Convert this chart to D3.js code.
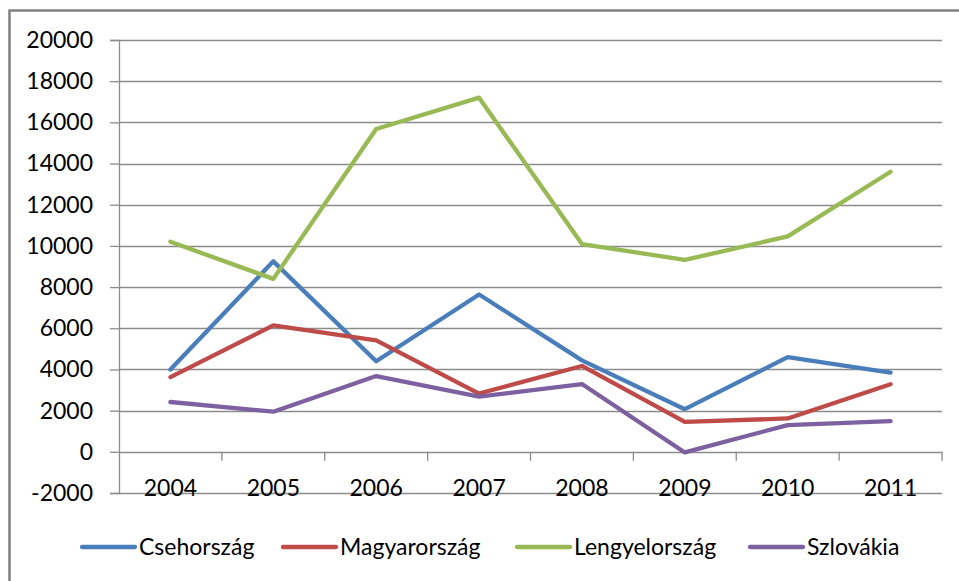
<!DOCTYPE html>
<html>
<head>
<meta charset="utf-8">
<script src="https://cdn.jsdelivr.net/npm/d3@7"></script>
<style>
  body { margin: 0; background: #fff; }
  svg { display: block; font-family: Lato, "Open Sans", sans-serif; }
</style>
</head>
<body>
<svg id="chart" width="959" height="581"></svg>
<script>
const years = ["2004", "2005", "2006", "2007", "2008", "2009", "2010", "2011"];
const seriesNames = ["Csehország", "Magyarország", "Lengyelország", "Szlovákia"];
const csehorszag = [4000, 9250, 4400, 7640, 4440, 2070, 4600, 3850];
const magyarorszag = [3630, 6140, 5410, 2830, 4170, 1450, 1620, 3280];
const lengyelorszag = [10200, 8400, 15680, 17200, 10090, 9320, 10460, 13600];
const szlovakia = [2420, 1950, 3680, 2680, 3290, -30, 1300, 1490];
const yTicks = [-2000, 0, 2000, 4000, 6000, 8000, 10000, 12000, 14000, 16000, 18000, 20000];
const colors = ["#4a7ebb", "#be4b48", "#98b954", "#7d60a0"];

const allSeries = [csehorszag, magyarorszag, lengyelorszag, szlovakia];

const svg = d3.select("#chart");
const gridColor = "#8c8c8c";

// outer chart border (runs off the right and bottom edge like the screenshot)
svg.append("rect")
    .attr("x", 9.5).attr("y", 10.5)
    .attr("width", 980).attr("height", 600)
    .attr("fill", "none")
    .attr("stroke", "#808080")
    .attr("stroke-width", 2.5);

const plot = { left: 119, right: 942, top: 40, bottom: 493 };

const x = d3.scaleBand().domain(years).range([plot.left, plot.right]);
const y = d3.scaleLinear().domain([-2000, 20000]).range([plot.bottom, plot.top]);

// horizontal gridlines + y axis
const yAxis = d3.axisLeft(y)
    .tickValues(yTicks)
    .tickFormat(d => String(d))
    .tickSize(9)
    .tickPadding(17);
const gy = svg.append("g")
    .attr("transform", `translate(${plot.left},0)`)
    .call(yAxis);
gy.select(".domain").attr("stroke", gridColor).attr("stroke-width", 1.3);
gy.selectAll(".tick line").attr("stroke", gridColor).attr("stroke-width", 1.3);
gy.selectAll(".tick text")
    .attr("fill", "#000")
    .style("font-size", "23px")
    .style("font-family", "Lato, sans-serif");

svg.append("g")
    .selectAll("line")
    .data(yTicks)
    .join("line")
    .attr("x1", plot.left).attr("x2", plot.right)
    .attr("y1", d => Math.round(y(d)) + 0.5).attr("y2", d => Math.round(y(d)) + 0.5)
    .attr("stroke", gridColor)
    .attr("stroke-width", 1.3);

// x axis sits on the zero line, ticks at category boundaries
const boundaries = years.map(d => x(d)).concat([plot.right]).slice(1);
svg.append("g")
    .selectAll("line")
    .data(boundaries)
    .join("line")
    .attr("x1", d => d).attr("x2", d => d)
    .attr("y1", y(0)).attr("y2", y(0) + 9)
    .attr("stroke", gridColor)
    .attr("stroke-width", 1.3);

// category labels at the bottom of the plot
svg.append("g")
    .selectAll("text")
    .data(years)
    .join("text")
    .attr("x", d => x(d) + x.bandwidth() / 2)
    .attr("y", plot.bottom + 3)
    .attr("text-anchor", "middle")
    .style("font-size", "23px")
    .text(d => d);

// series lines
const line = d3.line()
    .x((d, i) => x(years[i]) + x.bandwidth() / 2)
    .y(d => y(d));

svg.append("g")
    .selectAll("path")
    .data(allSeries)
    .join("path")
    .attr("d", line)
    .attr("fill", "none")
    .attr("stroke", (d, i) => colors[i])
    .attr("stroke-width", 4.3)
    .attr("stroke-linejoin", "round")
    .attr("stroke-linecap", "round");

// legend
const legendX = [82, 283, 517, 750];
const legend = svg.append("g")
    .selectAll("g")
    .data(seriesNames)
    .join("g")
    .attr("transform", (d, i) => `translate(${legendX[i]},547)`);

legend.append("line")
    .attr("x1", 0).attr("x2", 53)
    .attr("stroke", (d, i) => colors[i])
    .attr("stroke-width", 4.3)
    .attr("stroke-linecap", "round");

legend.append("text")
    .attr("x", 57)
    .attr("dy", "0.35em")
    .style("font-size", "23px")
    .text(d => d);
</script>
</body>
</html>
